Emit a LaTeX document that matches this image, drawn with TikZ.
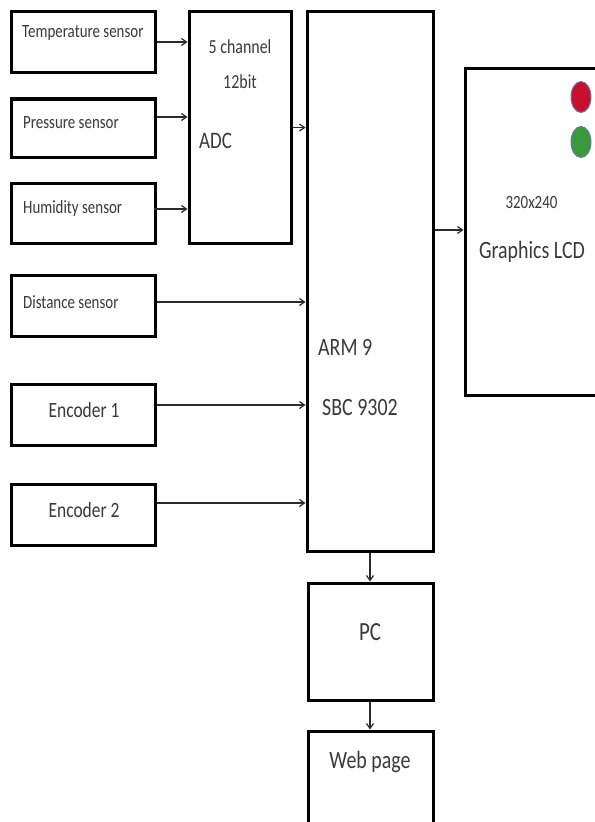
\documentclass[tikz,border=0pt]{standalone}
\usepackage{fontspec}
\usepackage{graphicx}
\setmainfont{Carlito}
\usetikzlibrary{arrows.meta,shapes.geometric}
\definecolor{txtc}{HTML}{3A3A3A}
\definecolor{linec}{HTML}{2A2A2A}
\definecolor{ledred}{HTML}{C8102E}
\definecolor{ledgreen}{HTML}{3A9A3A}
\definecolor{ledrim}{HTML}{6A7AB0}
\newcommand\tx[2]{{\fontsize{#1}{#1}\selectfont\scalebox{1}[1.25]{#2}}}
\tikzset{
  blk/.style={draw=black, line width=3bp, minimum width=#1, inner sep=0pt, fill=white},
  lbl/.style={text=txtc, inner sep=0pt},
  arr/.style={draw=linec, line width=1.2bp, -{Straight Barb[length=5bp,width=7bp]}},
  led/.style={ellipse, fill=#1, draw=ledrim, line width=1bp, minimum width=20bp, minimum height=31bp, inner sep=0pt},
}
\begin{document}
\begin{tikzpicture}[x=1bp,y=-1bp]
\useasboundingbox (0,0) rectangle (595,822);
\clip (0,0) rectangle (595,822);
\fill[white] (0,0) rectangle (595,822);
% sensor boxes
\node[blk=143bp, minimum height=60bp] (temp) at (83.5,42) {};
\node[blk=143bp, minimum height=58bp] (press) at (83.5,128) {};
\node[blk=143bp, minimum height=60bp] (hum) at (83.5,213) {};
\node[blk=143bp, minimum height=61bp] (dist) at (83.5,305.5) {};
\node[blk=143bp, minimum height=61bp] (enc1) at (83.5,414.5) {};
\node[blk=143bp, minimum height=61bp] (enc2) at (83.5,514.5) {};
\node[lbl, anchor=west] (ttemp) at (22,33) {\tx{15}{Temperature sensor}};
\node[lbl, anchor=west] (tpress) at (23,123) {\tx{15}{Pressure sensor}};
\node[lbl, anchor=west] (thum) at (23,209) {\tx{15}{Humidity sensor}};
\node[lbl, anchor=west] (tdist) at (23,302) {\tx{15}{Distance sensor}};
\node[lbl] (tenc1) at (84,410) {\tx{17.5}{Encoder 1}};
\node[lbl] (tenc2) at (84,510) {\tx{17.5}{Encoder 2}};
% ADC
\node[blk=102bp, minimum height=231bp] (adc) at (240,127.5) {};
\node[lbl] (tadc1) at (240,47) {\tx{16}{5 channel}};
\node[lbl] (tadc2) at (240,82) {\tx{16}{12bit}};
\node[lbl, anchor=west] (tadc3) at (199,141) {\tx{19}{ADC}};
% ARM
\node[blk=126bp, minimum height=539bp] (arm) at (370,281.5) {};
\node[lbl, anchor=west] (tarm1) at (318,347) {\tx{20}{ARM 9}};
\node[lbl, anchor=west] (tarm2) at (322,407) {\tx{20}{SBC 9302}};
% LCD
\node[blk=131bp, minimum height=326bp] (lcd) at (530.5,232) {};
\node[lbl] (tlcd1) at (531.5,203) {\tx{15}{320x240}};
\node[lbl] (tlcd2) at (532,252) {\tx{20}{Graphics LCD}};
\node[led=ledred] (led1) at (581,97) {};
\node[led=ledgreen] (led2) at (581,142) {};
% PC and Web page
\node[blk=125bp, minimum height=117bp] (pc) at (370.5,641.5) {};
\node[lbl] (tpc) at (370,632) {\tx{21}{PC}};
\node[blk=125bp, minimum height=120bp] (web) at (370.5,791) {};
\node[lbl] (tweb) at (370,762) {\tx{20}{Web page}};
% connectors
\draw[arr] (temp.east) -- (temp.east -| adc.west);
\draw[arr] ([yshift=11bp]press.east) -- ([yshift=11bp]press.east -| adc.west);
\draw[arr] ([yshift=4bp,xshift=-3bp]hum.east) -- ([yshift=4bp]hum.east -| adc.west);
\draw[arr] (adc.east) -- (adc.east -| arm.west);
\draw[arr] ([yshift=3.5bp]dist.east) -- ([yshift=3.5bp]dist.east -| arm.west);
\draw[arr] ([yshift=9.5bp]enc1.east) -- ([yshift=9.5bp]enc1.east -| arm.west);
\draw[arr] ([yshift=11.5bp]enc2.east) -- ([yshift=11.5bp]enc2.east -| arm.west);
\draw[arr] ([yshift=2bp]lcd.west -| arm.east) -- ([yshift=2bp]lcd.west);
\draw[arr] (arm.south) -- (arm.south |- pc.north);
\draw[arr] (pc.south -| arm.south) -- (web.north -| arm.south);
\end{tikzpicture}
\end{document}
